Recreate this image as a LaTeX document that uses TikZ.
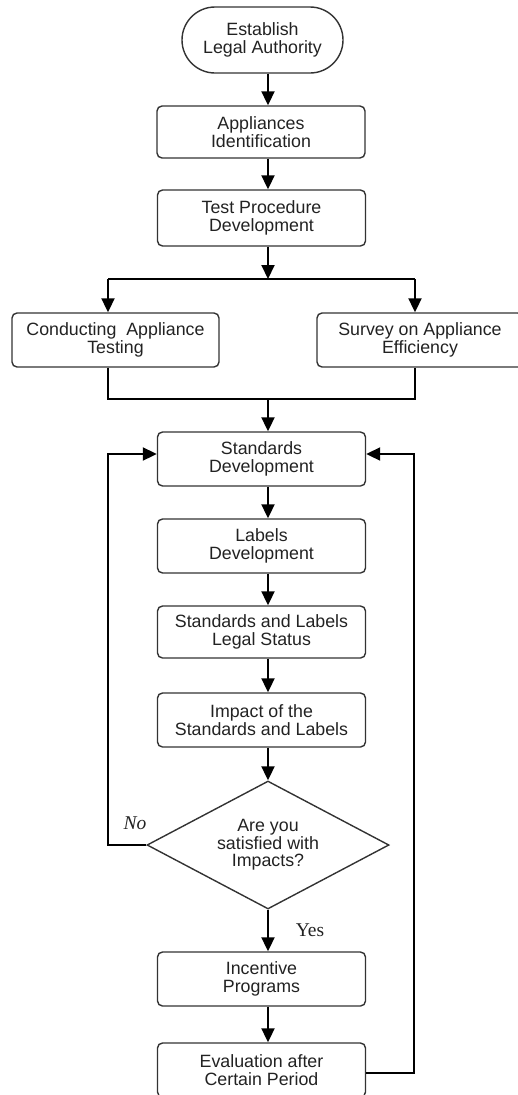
\documentclass[tikz,border=0pt]{standalone}
\usepackage{fontspec}
\setmainfont{Liberation Sans}
\newfontfamily\serifit{Liberation Serif}
\usetikzlibrary{arrows.meta,shapes.geometric,shapes.misc}
\definecolor{edge}{HTML}{333333}
\definecolor{txt}{HTML}{222222}
\tikzset{
  procbox/.style={draw=edge, line width=1.4pt, rounded corners=5pt, minimum width=208pt,
    minimum height=54pt, inner sep=0pt, align=center, text=txt,
    font=\fontsize{17.8}{17.5}\selectfont},
  termbox/.style={draw=edge, line width=1.4pt, rounded rectangle, minimum width=161pt,
    minimum height=66pt, inner sep=0pt, align=center, text=txt,
    font=\fontsize{17.8}{17.5}\selectfont},
  decbox/.style={draw=edge, line width=1.4pt, diamond, shape aspect=2, minimum width=242pt,
    minimum height=128pt, inner sep=0pt, align=center, text=txt,
    font=\fontsize{17.8}{17.5}\selectfont},
  conn/.style={draw=black, line width=2pt},
  arr/.style={conn, -{Triangle[width=13pt,length=14pt]}},
  lbl/.style={font=\serifit\fontsize{19.5}{19.5}\selectfont, text=txt}
}
\begin{document}
\begin{tikzpicture}[x=1pt,y=-1pt]
\useasboundingbox (0,0) rectangle (517,1095);
% nodes
\node[termbox] (est) at (262.5,40) {Establish\\Legal Authority};
\node[procbox, minimum height=52pt] (app) at (261,132) {Appliances\\Identification};
\node[procbox, minimum height=56pt] (test) at (261.5,218) {Test Procedure\\Development};
\node[procbox, minimum width=207pt] (cond) at (115.5,340) {Conducting\ \ Appliance\\Testing};
\node[procbox, minimum width=206pt] (surv) at (420,340) {Survey on Appliance\\Efficiency};
\node[procbox] (std) at (261.5,459) {Standards\\Development};
\node[procbox] (lab) at (261.5,546) {Labels\\Development};
\node[procbox, minimum height=52pt] (legal) at (261.5,632) {Standards and Labels\\Legal Status};
\node[procbox] (imp) at (261.5,720) {Impact of the\\Standards and Labels};
\node[decbox] (dec) at (268,845) {Are you\\satisfied with\\Impacts?};
\node[procbox] (inc) at (261.5,979) {Incentive\\Programs};
\node[procbox] (eval) at (261.5,1070) {Evaluation after\\Certain Period};
\node[lbl, font=\serifit\itshape\fontsize{19.5}{19.5}\selectfont] (no) at (135,823) {No};
\node[lbl] (yes) at (310,930) {Yes};
% helper coordinates
\coordinate (trunk) at (268,0);
\coordinate (split) at (268,279);
\coordinate (bl) at (108,279);
\coordinate (br) at (415,279);
\coordinate (ml) at (108,399);
\coordinate (mr) at (415,399);
\coordinate (merge) at (268,399);
\coordinate (fbl) at (108,454);
\coordinate (fbr) at (414,454);
\coordinate (ey) at (0,1073);
% connectors
\draw[arr] (est.south -| trunk) -- (app.north -| trunk);
\draw[arr] (app.south -| trunk) -- (test.north -| trunk);
\draw[arr] (test.south -| trunk) -- (split);
\draw[conn] (bl) -- (br);
\draw[arr] (bl) -- (cond.north -| bl);
\draw[arr] (br) -- (surv.north -| br);
\draw[conn] (cond.south -| bl) -- (ml) -- (mr) -- (surv.south -| br);
\draw[arr] (merge) -- (std.north -| trunk);
\draw[arr] (std.south -| trunk) -- (lab.north -| trunk);
\draw[arr] (lab.south -| trunk) -- (legal.north -| trunk);
\draw[arr] (legal.south -| trunk) -- (imp.north -| trunk);
\draw[arr] (imp.south -| trunk) -- (dec.north);
\draw[arr] (dec.south) -- (inc.north -| trunk);
\draw[arr] (inc.south -| trunk) -- (eval.north -| trunk);
\draw[arr] (dec.west) -| (fbl) -- (std.west |- fbl);
\draw[arr] (eval.east |- ey) -| (fbr) -- (std.east |- fbr);
\end{tikzpicture}
\end{document}
